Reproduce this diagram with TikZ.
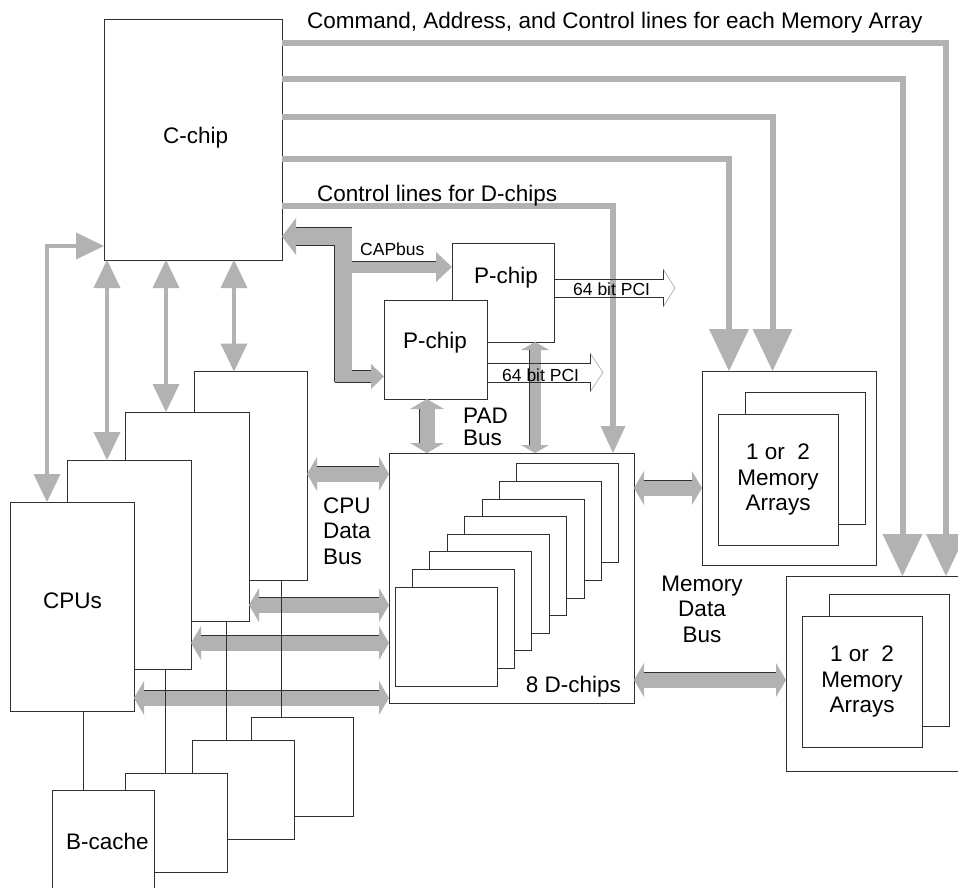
\documentclass[tikz,border=0pt]{standalone}
\usepackage{fontspec}
\setmainfont{Liberation Sans}
\usetikzlibrary{arrows.meta,calc}
\definecolor{busgray}{HTML}{B2B2B2}
\definecolor{boxline}{HTML}{303030}

\begin{document}
\begin{tikzpicture}[x=1pt, y=-1pt,
        chip/.style={draw=boxline, fill=white, line width=0.9pt, inner sep=0pt, outer sep=0pt},
        lbl/.style={font=\fontsize{22.5}{25.5}\selectfont, inner sep=0pt},
        slbl/.style={font=\fontsize{17.5}{20}\selectfont, inner sep=0pt},
        cmdline/.style={busgray, line width=6pt, -{Triangle[length=42pt,width=40pt,line width=0pt]}},
        ctlline/.style={busgray, line width=6pt, -{Triangle[length=27pt,width=25pt,line width=0pt]}},
        cpulink/.style={busgray, line width=4.5pt,
                    {Triangle[length=28pt,width=27pt,line width=0pt]}-{Triangle[length=28pt,width=27pt,line width=0pt]}},
        fatbus/.style={busgray, line width=15pt,
                    {Triangle[length=10pt,width=34pt,line width=0pt]}-{Triangle[length=10pt,width=34pt,line width=0pt]},
                    postaction={draw=boxline, line width=0.7pt, double=busgray, double distance=15pt,
                    shorten <=10pt, shorten >=10pt, arrows=-}},
        thinbus/.style={busgray, line width=11pt,
                    {Triangle[length=8pt,width=28pt,line width=0pt]}-{Triangle[length=8pt,width=28pt,line width=0pt]},
                    postaction={draw=boxline, line width=0.7pt, double=busgray, double distance=11pt,
                    shorten <=8pt, shorten >=8pt, arrows=-}},
        capedge/.style={boxline},
        pciline/.style={boxline, line width=0.7pt},
        pcihead/.style={black!35, line width=0.6pt},
        link/.style={boxline, line width=0.9pt}]
        \path[fill=white, use as bounding box] (0,0) rectangle (958,888);

        \node[chip, minimum width=178pt, minimum height=241pt] (cchip) at (193,139.5) {};
        \node[lbl, anchor=base west] (cchiptxt) at (163,143) {C-chip};

        \node[chip, minimum width=174pt, minimum height=194pt] (mem1) at (789,468) {};
        \node[chip, minimum width=120pt, minimum height=132pt] (mem1b) at (805,458) {};
        \node[chip, lbl, minimum width=120pt, minimum height=131pt, align=center] (mem1f) at (778,479.5)
              {1 or\ \ 2\\Memory\\Arrays};
        \node[chip, minimum width=174pt, minimum height=195pt] (mem2) at (873,673.5) {};
        \node[chip, minimum width=120pt, minimum height=132pt] (mem2b) at (889,660) {};
        \node[chip, lbl, minimum width=120pt, minimum height=131pt, align=center] (mem2f) at (862,681.5)
              {1 or\ \ 2\\Memory\\Arrays};

        \node[chip, minimum width=245pt, minimum height=250pt] (dchips) at (511.5,578) {};
        \foreach \i in {7,...,0}
          \node[chip, minimum width=102pt, minimum height=99pt] (d\i) at ({446+17.4*\i},{636.5-17.6*\i}) {};
        \node[lbl, anchor=base east] (dtxt) at (621,692) {8 D-chips};

        \node[chip, minimum width=102pt, minimum height=99pt] (pb) at (503,292.5) {};
        \node[lbl, anchor=base west] (pbtxt) at (474,283) {P-chip};
        \node[chip, minimum width=103pt, minimum height=99pt] (pf) at (435.5,349.5) {};
        \node[lbl, anchor=base west] (pftxt) at (403,348) {P-chip};

        \foreach \i/\cx/\cy/\w in {4/250.5/476/113, 3/187/516.5/124, 2/129/564.5/124, 1/72/606.5/124}
          \node[chip, minimum width=\w pt, minimum height=209pt] (cpu\i) at (\cx,\cy) {};
        \node[lbl, anchor=base west] (cputxt) at (43,608) {CPUs};
        \foreach \i/\cx/\cy in {4/302/766.5, 3/243.5/790, 2/176/822.5, 1/103/839.5}
          \node[chip, minimum width=102pt, minimum height=99pt] (bc\i) at (\cx,\cy) {};
        \node[lbl, anchor=base west] (bctxt) at (66,849) {B-cache};

        \draw[cmdline] (cchip.east |- 0,43) -| (mem2.north -| 946,0);
        \draw[cmdline] (cchip.east |- 0,79) -| (mem2.north -| 902.5,0);
        \draw[cmdline] (cchip.east |- 0,117) -| (mem1.north -| 772.5,0);
        \draw[cmdline] (cchip.east |- 0,159) -| (mem1.north -| 729,0);
        \draw[ctlline] (cchip.east |- 0,206) -| (dchips.north -| 613,0);
        \node[lbl, anchor=base west] (cmdtxt) at (307,29) {Command, Address, and Control lines for each Memory Array};
        \node[lbl, anchor=base west] (ctltxt) at (317,201) {Control lines for D-chips};

        \draw[cpulink] (cpu1.north -| 47,0) |- (cchip.west |- 0,246);
        \draw[cpulink] (cchip.south -| 107,0) -- (cpu2.north -| 107,0);
        \draw[cpulink] (cchip.south -| 166,0) -- (cpu3.north -| 166,0);
        \draw[cpulink] (cchip.south -| 234,0) -- (cpu4.north -| 234,0);

        \coordinate (capbend) at (343,236.5);
        \coordinate (capfoot) at (343,382);
        \coordinate (caplow) at (334.5,376.5);
        \coordinate (capup) at (351,267);
        \draw[capedge, line width=18.4pt, shorten <=14pt] (cchip.east |- capbend) -- (capbend) -- (capfoot);
        \draw[capedge, line width=12.4pt, shorten >=13pt] (caplow) -- (pf.west |- caplow);
        \draw[capedge, line width=12.4pt, shorten >=16pt] (capup) -- (pb.west |- capup);
        \draw[busgray, line width=17pt, {Triangle[length=14pt,width=37pt,line width=0pt]}-]
              (cchip.east |- capbend) -- (capbend) -- (capfoot);
        \draw[busgray, line width=11pt, -{Triangle[length=13pt,width=25pt,line width=0pt]}] (caplow) -- (pf.west |- caplow);
        \draw[busgray, line width=11pt, -{Triangle[length=16pt,width=30pt,line width=0pt]}] (capup) -- (pb.west |- capup);
        \node[slbl, anchor=base west] (captxt) at (360,255) {CAPbus};

        \draw[fatbus] (cpu4.east |- 0,474) -- (dchips.west |- 0,474);
        \draw[fatbus] (cpu3.east |- 0,605) -- (dchips.west |- 0,605);
        \draw[fatbus] (cpu2.east |- 0,643) -- (dchips.west |- 0,643);
        \draw[fatbus] (cpu1.east |- 0,698) -- (dchips.west |- 0,698);
        \draw[fatbus] (dchips.east |- 0,488) -- (mem1.west |- 0,488);
        \draw[fatbus] (dchips.east |- 0,680) -- (mem2.west |- 0,680);
        \draw[fatbus] (pf.south -| 427,0) -- (dchips.north -| 427,0);
        \draw[thinbus] (pb.south -| 535,0) -- (dchips.north -| 535,0);
        \node[lbl, align=left, anchor=west] (cpubustxt) at (323,531) {CPU\\Data\\Bus};
        \node[lbl, align=center] (membustxt) at (702,609) {Memory\\Data\\Bus};
        \node[lbl, align=left, anchor=west, font=\fontsize{22.5}{22}\selectfont] (padtxt) at (463,427) {PAD\\Bus};

        \draw[link] (cpu1.south -| 83,0) -- (bc1.north -| 83,0);
        \draw[link] (cpu2.south -| 165,0) -- (bc2.north -| 165,0);
        \draw[link] (cpu3.south -| 226,0) -- (bc3.north -| 226,0);
        \draw[link] (cpu4.south -| 281,0) -- (bc4.north -| 281,0);

        \coordinate (pcitipa) at (675,288);
        \coordinate (pcitipb) at (603,372.5);
        \draw[pciline] (pb.east |- 0,279) -| ($(pcitipa)+(-12,-19)$);
        \draw[pciline] (pb.east |- 0,297) -| ($(pcitipa)+(-12,19)$);
        \draw[pcihead] ($(pcitipa)+(-12,-19)$) -- (pcitipa) -- ($(pcitipa)+(-12,19)$);
        \draw[pciline] (pf.east |- 0,363) -| ($(pcitipb)+(-13,-19.5)$);
        \draw[pciline] (pf.east |- 0,382) -| ($(pcitipb)+(-13,19.5)$);
        \draw[pcihead] ($(pcitipb)+(-13,-19.5)$) -- (pcitipb) -- ($(pcitipb)+(-13,19.5)$);
        \node[slbl, anchor=base west] (pcitxta) at (573,295) {64 bit PCI};
        \node[slbl, anchor=base west] (pcitxtb) at (502,381) {64 bit PCI};
      \end{tikzpicture}
\end{document}
